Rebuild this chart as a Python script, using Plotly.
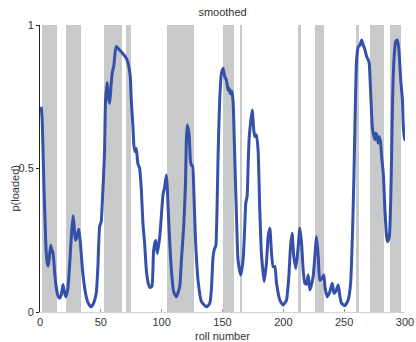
import plotly.graph_objects as go

# roll number and smoothed probability of loaded die
roll = [1, 1.8, 2.5, 3.3, 4.2, 5.1, 6.0, 6.7, 7.7, 8.8, 10, 10.6, 11.9, 13.3, 14.7, 16, 17.4, 18.9, 20, 21.2,
        22.9, 24.8, 26, 27.3, 28.2, 29.1, 30.5, 31.8, 32.4, 33.1, 35.2, 38, 40, 42, 44, 46.2, 47.5, 49, 50.3, 51.5,
        53, 53.9, 55.2, 56.2, 57.3, 58.4, 59.5, 60.6, 62.6, 65.4, 68.2, 70.9, 72.8, 74.2, 75, 76.4, 77.3, 78.5, 79.2, 80.4,
        81.9, 83.3, 84.6, 86, 87.4, 89, 90.5, 92, 93.4, 95.1, 96.4, 98.4, 99.7, 101.1, 102.5, 103.9, 104.7, 106, 108, 109.9,
        112.1, 114.8, 116.2, 118.1, 119.6, 120.3, 121.1, 122.5, 123.6, 124.6, 125.4, 126.3, 127.7, 129.9, 132.7, 136.8, 139.5, 140.9, 142.2, 143.4,
        144.5, 145.5, 146.4, 147.7, 149.1, 150.5, 151.9, 153.2, 154.6, 155.4, 156.5, 157.6, 158.7, 160, 161.5, 162.8, 165, 166.9, 168.3, 169.1,
        170.2, 171.2, 172, 173, 174.4, 175.7, 176.6, 177.9, 179.3, 180.6, 182, 184.2, 186.1, 187.5, 188.9, 190.3, 191.6, 193, 194.4, 197.1,
        199.8, 202.6, 204.5, 205.9, 207.2, 208.6, 210.3, 212.2, 213.6, 215, 216.3, 217.7, 219.1, 220.4, 221.8, 224.5, 225.9, 227.3, 228.7, 230,
        231.4, 233.3, 234.2, 236, 238.2, 240.2, 241.6, 242.9, 245.1, 246.5, 247.9, 250.6, 253.3, 255.3, 257, 258, 258.8, 260.2, 261.6, 263,
        264.4, 265.7, 267.1, 268.5, 269.8, 270.6, 271.8, 273.1, 273.9, 275.3, 276.1, 277.2, 278, 278.9, 280, 280.8, 282.2, 283.5, 284.9, 285.7,
        287.1, 288.2, 289, 289.8, 290.9, 292.3, 293.7, 295, 296.5, 297.9, 298.6, 299.5, 300]
p_loaded = [0.715, 0.67, 0.56, 0.43, 0.31, 0.21, 0.17, 0.16, 0.19, 0.233, 0.207, 0.214, 0.146, 0.088, 0.058, 0.048, 0.058, 0.096, 0.07, 0.053,
            0.082, 0.193, 0.28, 0.335, 0.29, 0.25, 0.265, 0.288, 0.27, 0.245, 0.135, 0.053, 0.028, 0.018, 0.03, 0.065, 0.15, 0.297, 0.315, 0.41,
            0.55, 0.74, 0.80, 0.75, 0.727, 0.79, 0.837, 0.855, 0.925, 0.913, 0.90, 0.884, 0.86, 0.82, 0.74, 0.646, 0.576, 0.558, 0.57, 0.518,
            0.50, 0.425, 0.309, 0.239, 0.146, 0.10, 0.085, 0.09, 0.216, 0.25, 0.204, 0.262, 0.332, 0.408, 0.437, 0.477, 0.425, 0.297, 0.146, 0.07,
            0.053, 0.088, 0.18, 0.297, 0.45, 0.60, 0.652, 0.62, 0.53, 0.51, 0.51, 0.437, 0.262, 0.11, 0.036, 0.018, 0.03, 0.08, 0.19, 0.22,
            0.23, 0.36, 0.55, 0.739, 0.83, 0.849, 0.82, 0.808, 0.773, 0.78, 0.76, 0.77, 0.733, 0.55, 0.332, 0.18, 0.129, 0.18, 0.297, 0.379,
            0.402, 0.53, 0.611, 0.657, 0.704, 0.634, 0.611, 0.617, 0.56, 0.36, 0.204, 0.106, 0.17, 0.262, 0.292, 0.204, 0.158, 0.158, 0.10, 0.042,
            0.024, 0.042, 0.123, 0.227, 0.274, 0.193, 0.152, 0.227, 0.292, 0.239, 0.146, 0.10, 0.097, 0.129, 0.077, 0.123, 0.193, 0.262, 0.193, 0.111,
            0.115, 0.129, 0.088, 0.053, 0.07, 0.10, 0.065, 0.07, 0.094, 0.053, 0.03, 0.022, 0.042, 0.10, 0.297, 0.47, 0.64, 0.878, 0.924, 0.93,
            0.948, 0.93, 0.913, 0.89, 0.878, 0.866, 0.762, 0.646, 0.623, 0.60, 0.623, 0.611, 0.588, 0.611, 0.588, 0.541, 0.48, 0.355, 0.262, 0.245,
            0.262, 0.379, 0.55, 0.739, 0.878, 0.942, 0.948, 0.913, 0.808, 0.739, 0.646, 0.60, 0.62]

# loaded-die intervals (shaded)
shade_start = [1.5, 21, 53, 70.8, 104.3, 150, 165.2, 211.7, 226.3, 259.5, 271.6, 287.3, 300.2]
shade_end = [13.7, 34, 67.2, 75, 126.5, 159.4, 166.4, 214.4, 233.6, 262.5, 282.9, 296.7, 301.0]

x_ticks = [0, 50, 100, 150, 200, 250, 300]
y_ticks = [0, 0.5, 1]
y_tick_text = ["0", "0.5", "1"]

centers = [(a + b) / 2 for a, b in zip(shade_start, shade_end)]
widths = [b - a for a, b in zip(shade_start, shade_end)]

FONT = "Liberation Sans, Arial, sans-serif"

fig = go.Figure()
fig.add_trace(go.Bar(x=centers, y=[1] * len(centers), width=widths, base=0,
                     marker=dict(color="rgb(200,201,203)", line=dict(width=0)),
                     hoverinfo="skip", showlegend=False))
fig.add_trace(go.Scatter(x=roll, y=p_loaded, mode="lines",
                         line=dict(color="rgb(52,80,168)", width=3, shape="spline", smoothing=0.5),
                         showlegend=False))

fig.update_layout(
    width=416, height=342,
    margin=dict(l=40, r=11, t=25, b=30, autoexpand=False),
    paper_bgcolor="white", plot_bgcolor="white",
    font=dict(family=FONT, size=11, color="#333"),
    title=dict(text="smoothed", x=0.535, xanchor="center", y=1 - 12.5 / 342, yanchor="middle",
               font=dict(size=11, color="#333")),
    bargap=0,
    xaxis=dict(range=[0, 300], tickvals=x_ticks, showgrid=False, zeroline=False, automargin=False,
               showline=True, linecolor="#d4d4d4", linewidth=1,
               ticks="inside", ticklen=3, tickcolor="#999", tickfont=dict(size=11, color="#333")),
    yaxis=dict(range=[0, 1], tickvals=y_ticks, ticktext=y_tick_text, showgrid=False, zeroline=False,
               automargin=False,
               showline=True, linecolor="#222", linewidth=1,
               ticks="outside", ticklen=3, tickcolor="#222", tickfont=dict(size=11, color="#333")),
    annotations=[
        dict(text="roll number", xref="paper", yref="paper", x=0.5, y=0, xanchor="center", yanchor="middle",
             yshift=-24, showarrow=False, font=dict(size=11, color="#333")),
        dict(text="p(loaded)", xref="paper", yref="paper", x=0, y=0.5, xanchor="center", yanchor="middle",
             xshift=-26, yshift=-20, textangle=-90, showarrow=False, font=dict(size=11, color="#333")),
    ],
)

fig.write_html("out.html", config={"displayModeBar": False},
               post_script="document.body.style.margin='0';document.body.style.overflow='hidden';")
